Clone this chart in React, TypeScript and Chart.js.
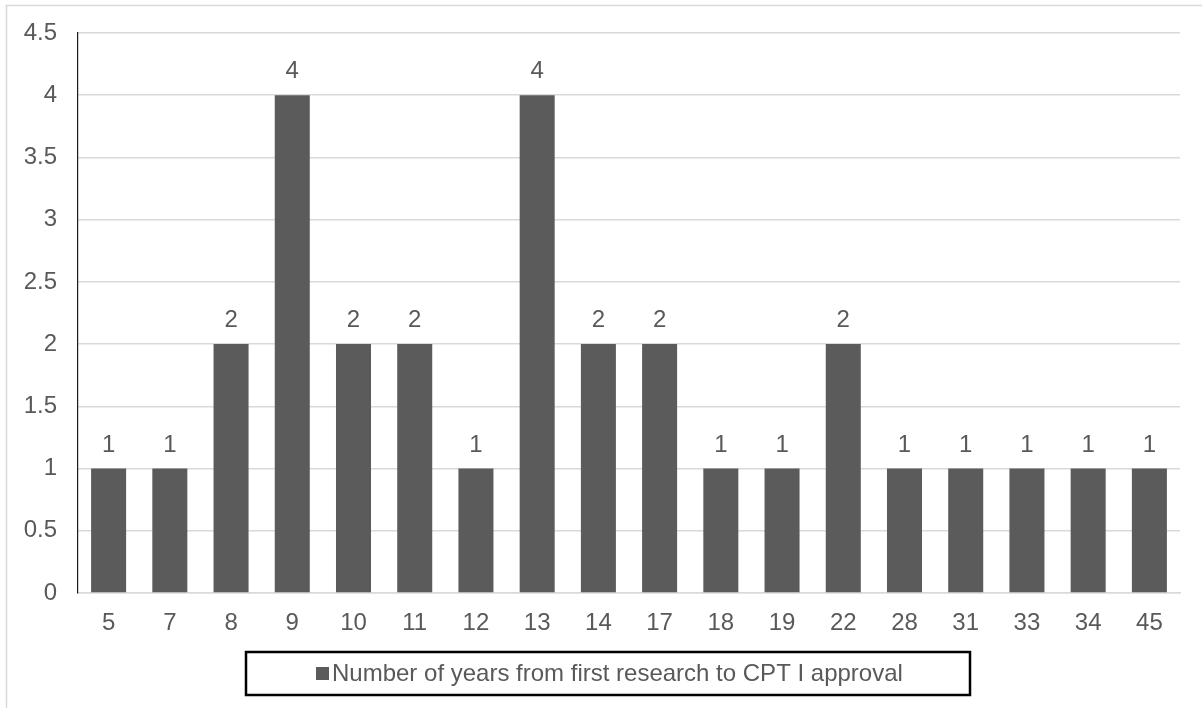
import React, { useEffect, useRef } from "react";
import { Chart, registerables } from "chart.js";

Chart.register(...registerables);

const categories = ["5", "7", "8", "9", "10", "11", "12", "13", "14", "17", "18", "19", "22", "28", "31", "33", "34", "45"];
const counts = [1, 1, 2, 4, 2, 2, 1, 4, 2, 2, 1, 1, 2, 1, 1, 1, 1, 1];
const seriesLabel = "Number of years from first research to CPT I approval";
const yMin = 0;
const yMax = 4.5;
const yStep = 0.5;

const FONT = '"Liberation Sans", Arial, sans-serif';
const FS = 24;
const TEXT = "#595959";
const BAR = "#5b5b5b";
const GRID = "#d9d9d9";

const frame = {
  id: "frame",
  beforeDraw(chart: any) {
    const ctx = chart.ctx;
    ctx.save();
    ctx.fillStyle = "#ffffff";
    ctx.fillRect(0, 0, chart.width, chart.height);
    ctx.strokeStyle = GRID;
    ctx.lineWidth = 1.5;
    ctx.strokeRect(6.5, 5.5, chart.width + 50, chart.height + 50);
    ctx.restore();
  },
};

const valueLabels = {
  id: "valueLabels",
  afterDatasetsDraw(chart: any) {
    const ctx = chart.ctx;
    ctx.save();
    ctx.font = `${FS}px ${FONT}`;
    ctx.fillStyle = TEXT;
    ctx.textAlign = "center";
    ctx.textBaseline = "alphabetic";
    const meta = chart.getDatasetMeta(0);
    const data = chart.data.datasets[0].data;
    meta.data.forEach((bar: any, i: number) => {
      ctx.fillText(String(data[i]), bar.x, bar.y - 17);
    });
    ctx.restore();
  },
};

const boxedLegend = {
  id: "boxedLegend",
  afterDraw(chart: any) {
    const ctx = chart.ctx;
    const ds = chart.data.datasets[0];
    const area = chart.chartArea;
    const top = area.bottom + 59;
    const h = 43;
    const left = 246;
    const right = 970;
    ctx.save();
    ctx.strokeStyle = "#000000";
    ctx.lineWidth = 2.5;
    ctx.strokeRect(left, top, right - left, h);
    const cy = top + h / 2;
    ctx.fillStyle = ds.backgroundColor;
    ctx.fillRect(316, cy - 6.5, 13, 13);
    ctx.font = `${FS}px ${FONT}`;
    ctx.fillStyle = TEXT;
    ctx.textAlign = "left";
    ctx.textBaseline = "middle";
    ctx.fillText(ds.label, 332, cy + 1);
    ctx.restore();
  },
};

export default function App() {
  const ref = useRef<HTMLCanvasElement | null>(null);

  useEffect(() => {
    if (!ref.current) return;
    const chart = new Chart(ref.current, {
      type: "bar",
      data: {
        labels: categories,
        datasets: [
          {
            label: seriesLabel,
            data: counts,
            backgroundColor: BAR,
            borderWidth: 0,
            categoryPercentage: 1,
            barPercentage: 0.572,
          },
        ],
      },
      options: {
        animation: false,
        responsive: false,
        maintainAspectRatio: false,
        devicePixelRatio: 1,
        layout: { padding: { left: 10, right: 22, top: 29, bottom: 65 } },
        plugins: {
          legend: { display: false },
          tooltip: { enabled: false },
        },
        scales: {
          x: {
            grid: { display: false, drawTicks: false },
            border: { display: true, color: GRID, width: 1.5 },
            ticks: {
              color: TEXT,
              font: { family: FONT, size: FS },
              padding: 16,
              maxRotation: 0,
              autoSkip: false,
            },
            afterFit: (s: any) => {
              s.height = 50;
            },
          },
          y: {
            min: yMin,
            max: yMax,
            grid: { color: GRID, lineWidth: 1.5, drawTicks: false },
            border: { display: true, color: "#1a1a1a", width: 1.2 },
            ticks: {
              stepSize: yStep,
              color: TEXT,
              font: { family: FONT, size: FS, lineHeight: 1 },
              padding: 21,
              callback: (v: any) => String(Number(v)),
            },
            afterFit: (s: any) => {
              s.width = 68;
            },
          },
        },
      },
      plugins: [frame, valueLabels, boxedLegend],
    });
    return () => chart.destroy();
  }, []);

  return (
    <div style={{ position: "fixed", left: 0, top: 0, width: 1202, height: 708, background: "#fff" }}>
      <canvas ref={ref} width={1202} height={708} style={{ width: 1202, height: 708, display: "block" }} />
    </div>
  );
}
